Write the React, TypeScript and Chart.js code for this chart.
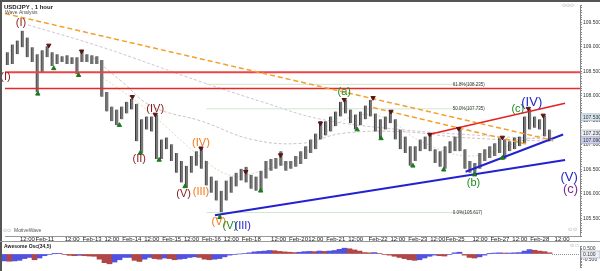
import React, { useEffect, useRef } from 'react';
import { Chart, registerables } from 'chart.js';
Chart.register(...registerables);

// ---- price data: 3-hour buckets (index = bucket) ----
const HIGHS = [
  108.89, 109.05, 109.13, 109.33, 109.19, 108.99, 108.85, 108.93, 109.01, 108.89,
  108.85, 108.81, 108.83, 108.79, 108.79, 108.93, 108.85, 108.83, 108.81, 108.73,
  108.08, 107.78, 107.72, 107.78, 107.88, 107.94, 107.84, 107.52, 107.58, 107.58,
  107.62, 107.11, 107.15, 107.01, 106.83, 106.67, 106.57, 106.77, 106.87, 106.95,
  106.67, 106.35, 106.27, 106.06, 106.27, 106.35, 106.43, 106.51, 106.55, 106.39,
  106.35, 106.47, 106.67, 106.71, 106.73, 106.87, 106.67, 106.67, 106.77, 106.87,
  106.97, 107.11, 107.23, 107.48, 107.48, 107.58, 107.68, 107.88, 107.92, 107.72,
  107.62, 107.68, 107.80, 107.92, 107.64, 107.52, 107.58, 107.68, 107.52, 107.31,
  107.17, 106.97, 106.97, 107.11, 107.17, 107.23, 106.91, 106.87, 106.97, 107.07,
  107.17, 107.33, 106.91, 106.67, 106.63, 106.83, 106.91, 106.97, 107.03, 107.15,
  107.11, 107.07, 107.15, 107.17, 107.58, 107.74, 107.58, 107.52, 107.60, 107.31,
];
const LOWS = [
  108.63, 108.65, 108.85, 108.99, 108.79, 108.69, 108.08, 108.48, 108.79, 108.61,
  108.65, 108.69, 108.65, 108.65, 108.44, 108.69, 108.69, 108.65, 108.65, 107.98,
  107.68, 107.48, 107.40, 107.52, 107.64, 107.72, 107.07, 106.83, 107.31, 107.27,
  106.71, 106.71, 106.91, 106.67, 106.43, 106.23, 106.13, 106.43, 106.57, 106.51,
  106.17, 106.02, 105.86, 105.62, 105.86, 106.02, 106.15, 106.27, 106.23, 106.10,
  106.06, 106.06, 106.31, 106.47, 106.51, 106.57, 106.47, 106.51, 106.55, 106.61,
  106.71, 106.83, 106.91, 107.11, 107.19, 107.27, 107.38, 107.58, 107.64, 107.44,
  107.31, 107.40, 107.52, 107.58, 107.27, 107.13, 107.31, 107.44, 107.11, 106.91,
  106.83, 106.57, 106.67, 106.87, 106.91, 106.87, 106.63, 106.55, 106.51, 106.83,
  106.87, 106.87, 106.51, 106.43, 106.37, 106.51, 106.67, 106.73, 106.77, 106.83,
  106.71, 106.87, 106.91, 106.97, 107.03, 107.31, 107.35, 107.31, 107.17, 107.07,
];
// Awesome oscillator (34,5)
const AO = [
  -0.6, -0.63, -0.6, -0.55, -0.4, -0.3, -0.5, -0.35, -0.15, -0.05,
  0.02, 0.03, -0.05, -0.12, -0.15, -0.12, -0.15, -0.18, -0.2, -0.45,
  -0.75, -0.85, -0.7, -0.5, -0.3, -0.3, -0.55, -0.65, -0.45, -0.3,
  -0.4, -0.45, -0.35, -0.4, -0.5, -0.45, -0.4, -0.3, -0.25, -0.3,
  -0.45, -0.5, -0.45, -0.4, -0.25, -0.1, -0.05, 0.0, 0.05, 0.1,
  0.18, 0.22, 0.25, 0.3, 0.28, 0.22, 0.18, 0.15, 0.12, 0.15,
  0.2, 0.22, 0.2, 0.25, 0.22, 0.25, 0.3, 0.4, 0.5, 0.45,
  0.35, 0.25, 0.12, 0.1, 0.12, 0.05, -0.05, -0.1, -0.2, -0.3,
  -0.4, -0.5, -0.55, -0.5, -0.35, -0.2, -0.1, -0.15, -0.18, -0.05,
  0.1, 0.15, -0.1, -0.3, -0.35, -0.25, -0.1, 0.02, 0.08, 0.1,
  0.08, 0.08, 0.1, 0.12, 0.25, 0.38, 0.32, 0.25, 0.2, 0.1,
];

// time axis
const X_TICK_POS = [4, 7.5, 13, 17, 21, 25, 29, 33, 37, 41, 45, 49, 54.5, 58.5, 62, 66, 70, 74.5, 78.5, 82.5, 86.5, 90, 95, 99, 103, 107, 111.5];
const X_TICK_LABELS = ['12:00', 'Feb-11', '12:00', 'Feb-13', '12:00', 'Feb-14', '12:00', 'Feb-15', '12:00', 'Feb-16', '12:00', 'Feb-18', '12:00', 'Feb-20', '12:00', 'Feb-21', '12:00', 'Feb-22', '12:00', 'Feb-23', '12:00', 'Feb-25', '12:00', 'Feb-27', '12:00', 'Feb-28', '12:00'];
const Y_TICK_VALUES = [105.5, 106, 106.5, 107, 107.5, 108, 108.5, 109, 109.5];
const OSC_TICK_VALUES = [0.5, -0.5];

// horizontal resistance levels
const RED_LEVELS = [108.48, 108.15];
// fibonacci retracement
const FIB_LEVELS = [108.235, 107.735, 105.617];
const FIB_NAMES = ['61.8%(108.235)', '50.0%(107.735)', '0.0%(105.617)'];
const FIB_START = 40;
const FIB_END = 95;

// trend lines [x1, p1, x2, p2]
const ORANGE_A = [-0.5, 109.68, 109.7, 107.09];
const ORANGE_B = [73.5, 107.76, 104.5, 107.01];
const RED_RISING = [84.7, 107.21, 112.1, 107.85];
const BLUE_LONG = [41.7, 105.56, 112.1, 106.69];
const BLUE_SHORT = [92.1, 106.45, 111.7, 107.21];

// moving averages (faint)
const MA1_X = [4.1, 19.1, 39.1, 51.1, 63.1, 79.1, 95.1, 109.7];
const MA1_Y = [109.45, 108.99, 108.28, 107.88, 107.52, 107.31, 107.19, 107.11];
const MA2_X = [17.1, 23.1, 29.1, 39.1, 49.1, 59.1, 67.1, 79.1, 91.1, 109.7];
const MA2_Y = [108.79, 108.28, 107.78, 107.48, 107.11, 107.03, 107.23, 107.27, 107.15, 107.07];
const MA3_X = [19.1, 27.7, 39.1, 45.1, 51.1, 59.1, 67.1, 75.1, 83.1, 93.1, 103.1, 109.7];
const MA3_Y = [108.38, 107.74, 106.73, 106.37, 106.47, 106.77, 107.48, 107.58, 107.07, 106.77, 107.07, 107.27];

// fractal markers
const TOP_X = [8.3, 14.9, 25.1, 29.7, 38.9, 47.9, 54.9, 62.9, 67.7, 73.5, 77.1, 84.9, 90.7, 99.5, 104.7, 107.7];
const TOP_Y = [109.03, 108.91, 107.98, 107.62, 106.93, 106.45, 106.79, 107.44, 107.92, 107.96, 107.68, 107.21, 107.33, 107.15, 107.74, 107.60];
const BOT_X = [6.1, 9.3, 14.3, 22.5, 26.7, 30.5, 35.7, 42.7, 50.9, 70.3, 75.1, 81.5, 87.7, 93.9, 99.5];
const BOT_Y = [108.04, 108.56, 108.42, 107.40, 106.83, 106.69, 106.15, 105.52, 106.06, 107.31, 107.13, 106.57, 106.49, 106.39, 106.73];

// Elliott wave labels
const WAVE_TEXT = ['(I)', '(I)', '(II)', '(IV)', '(V)', '(III)', '(IV)', '(V)', '(V)', '(III)', '(a)', '(b)', '(c)', '(IV)', '(V)', '(c)'];
const WAVE_X = [2.7, -0.4, 26.5, 29.7, 35.4, 38.9, 38.9, 42.5, 44.7, 47.3, 67.7, 93.7, 102.6, 105.4, 112.9, 113.2];
const WAVE_P = [109.49, 108.38, 106.71, 107.74, 106.0, 106.04, 107.03, 105.42, 105.34, 105.34, 108.08, 106.23, 107.74, 107.86, 106.33, 106.08];
const WAVE_DEGREE = ['minor', 'minor', 'minor', 'minor', 'minor', 'minute', 'minute', 'minute', 'sub', 'inter', 'sub', 'sub', 'sub', 'inter', 'inter', 'prim'];

// axis price boxes
const BOX_P = [107.56, 107.23, 107.09];
const BOX_TEXT = ['107.530', '107.230', '107.090'];

const DEGREE_COLOR: Record<string, string> = {
  minor: '#8b1a1a',
  minute: '#f07818',
  sub: '#1e8c1e',
  inter: '#2525c8',
  prim: '#7b2a8c',
};
const FONT = '"Liberation Sans", Arial, sans-serif';
const X_MIN = -0.5;
const X_MAX = 115.1;

const seg = (a: number[]) => [{ x: a[0], y: a[1] }, { x: a[2], y: a[3] }];
const pts = (xs: number[], ys: number[]) => xs.map((x, i) => ({ x, y: ys[i] }));

export default function App() {
  const mainRef = useRef<HTMLCanvasElement>(null);
  const oscRef = useRef<HTMLCanvasElement>(null);

  useEffect(() => {
    document.body.style.margin = '0';

    const mainOverlay = {
      id: 'mainOverlay',
      beforeDraw(chart: any) {
        const c = chart.ctx;
        c.save();
        c.fillStyle = '#fff';
        c.fillRect(0, 0, chart.width, chart.height);
        c.restore();
      },
      afterDraw(chart: any) {
        const c = chart.ctx;
        const xs = chart.scales.x;
        const ys = chart.scales.y;
        c.save();
        c.font = `4.5px ${FONT}`;
        c.fillStyle = '#333';
        c.textAlign = 'left';
        c.textBaseline = 'middle';
        FIB_LEVELS.forEach((lv, i) => {
          c.fillText(FIB_NAMES[i], xs.getPixelForValue(89.5), ys.getPixelForValue(lv));
        });
        c.textAlign = 'center';
        WAVE_TEXT.forEach((t, i) => {
          const big = WAVE_DEGREE[i] === 'prim' || (WAVE_DEGREE[i] === 'inter' && WAVE_X[i] > 100);
          c.font = `${big ? 13 : 11}px ${FONT}`;
          c.fillStyle = DEGREE_COLOR[WAVE_DEGREE[i]];
          c.fillText(t, xs.getPixelForValue(WAVE_X[i]), ys.getPixelForValue(WAVE_P[i]));
        });
        c.textAlign = 'left';
        c.fillStyle = '#222';
        c.font = `bold 6px ${FONT}`;
        c.fillText('USD/JPY , 1 hour', 4, 7);
        c.font = `5px ${FONT}`;
        c.fillStyle = '#555';
        c.fillText('Wave Analysis', 5, 13);
        c.fillText('MotiveWave', 14, 231);
        c.fillStyle = '#aaa';
        c.fillText('\u2299\u2299', 3, 231);
        c.fillText('\u2299\u2299\u2299', 562, 6);
        c.fillText('\u2299 \u2299', 568, 230);
        const boxFill = ['#d6e6ec', '#f0f0f4', '#cfd0ec'];
        BOX_P.forEach((p, i) => {
          const py = ys.getPixelForValue(p);
          c.fillStyle = boxFill[i];
          c.fillRect(581, py - 3.5, 19, 7);
          c.strokeStyle = '#8a9ab0';
          c.lineWidth = 0.5;
          c.strokeRect(581, py - 3.5, 19, 7);
          c.fillStyle = '#333';
          c.font = `5px ${FONT}`;
          c.fillText(BOX_TEXT[i], 583, py);
        });
        c.fillStyle = '#555';
        c.fillRect(0, 0, chart.width, 2);
        c.fillRect(0, 0, 2, chart.height);
        c.strokeStyle = '#999';
        c.lineWidth = 1;
        c.beginPath();
        c.moveTo(0, 241.5);
        c.lineTo(600, 241.5);
        c.stroke();
        c.restore();
      },
    };

    const lineDs = (data: any[], color: string, width: number, order: number, dash: number[] = [], tension = 0) => ({
      type: 'line',
      data,
      borderColor: color,
      borderWidth: width,
      borderDash: dash,
      pointRadius: 0,
      tension,
      order,
      fill: false,
    });

    const main = new Chart(mainRef.current as HTMLCanvasElement, {
      type: 'bar',
      data: {
        datasets: [
          lineDs(pts(MA1_X, MA1_Y), 'rgba(190,170,200,0.7)', 1, 20, [3, 2], 0.4),
          lineDs(pts(MA2_X, MA2_Y), 'rgba(180,150,150,0.6)', 1, 20, [3, 2], 0.4),
          lineDs(pts(MA3_X, MA3_Y), 'rgba(200,190,150,0.6)', 1, 20, [2, 2], 0.4),
          ...FIB_LEVELS.map((lv) => lineDs([{ x: FIB_START, y: lv }, { x: FIB_END, y: lv }], '#cfe8cf', 1, 19)),
          {
            type: 'bar',
            data: LOWS.map((l, i) => ({ x: i, y: [l, HIGHS[i]] })),
            backgroundColor: '#777777',
            borderColor: '#3a3a3a',
            borderWidth: { left: 1, right: 0, top: 0, bottom: 0 },
            borderSkipped: false,
            barThickness: 3,
            order: 10,
          },
          ...RED_LEVELS.map((lv, i) => lineDs([{ x: X_MIN, y: lv }, { x: X_MAX, y: lv }], i === 0 ? '#ee4448' : '#e52a2a', i === 0 ? 2 : 1.5, 5)),
          lineDs(seg(ORANGE_A), '#f3a02c', 1.5, 4, [5, 3]),
          lineDs(seg(ORANGE_B), '#f3a02c', 1.5, 4, [5, 3]),
          lineDs(seg(RED_RISING), '#e82020', 1.5, 4),
          lineDs(seg(BLUE_LONG), '#2222d0', 2, 4),
          lineDs(seg(BLUE_SHORT), '#2222d0', 2, 4),
          {
            type: 'line',
            data: pts(TOP_X, TOP_Y),
            showLine: false,
            pointStyle: 'triangle',
            pointRotation: 180,
            pointRadius: 2.5,
            pointBackgroundColor: '#5a1414',
            pointBorderColor: '#5a1414',
            order: 1,
          },
          {
            type: 'line',
            data: pts(BOT_X, BOT_Y),
            showLine: false,
            pointStyle: 'triangle',
            pointRadius: 2.5,
            pointBackgroundColor: '#1a7a1a',
            pointBorderColor: '#1a7a1a',
            order: 1,
          },
        ] as any,
      },
      options: {
        responsive: false,
        animation: false,
        events: [],
        layout: { padding: { left: 2, top: 2, right: 0, bottom: 0 } },
        plugins: { legend: { display: false }, tooltip: { enabled: false } },
        scales: {
          x: {
            type: 'linear',
            offset: false,
            min: X_MIN,
            max: X_MAX,
            afterBuildTicks: (s: any) => {
              s.ticks = X_TICK_POS.map((v) => ({ value: v }));
            },
            afterFit: (s: any) => {
              s.height = 6;
            },
            ticks: {
              autoSkip: false,
              maxRotation: 0,
              padding: 0,
              font: { size: 6, family: FONT },
              color: '#222',
              callback: (_v: any, i: number) => X_TICK_LABELS[i],
            },
            grid: { display: false, drawTicks: false },
            border: { display: true, color: '#999' },
          },
          y: {
            type: 'linear',
            position: 'right',
            min: 105.137,
            max: 109.855,
            afterFit: (s: any) => {
              s.width = 20;
            },
            ticks: {
              stepSize: 0.05,
              autoSkip: false,
              padding: 1,
              font: { size: 5, family: FONT },
              color: '#333',
              callback: (v: any) => {
                const hit = Y_TICK_VALUES.find((t) => Math.abs(t - v) < 1e-6);
                return hit !== undefined ? hit.toFixed(3) : '';
              },
            },
            grid: { drawOnChartArea: false, tickLength: 2, color: '#888' },
            border: { color: '#888' },
          },
        },
      } as any,
      plugins: [mainOverlay],
    });

    const oscOverlay = {
      id: 'oscOverlay',
      beforeDraw(chart: any) {
        const c = chart.ctx;
        c.save();
        c.fillStyle = '#fff';
        c.fillRect(0, 0, chart.width, chart.height);
        c.restore();
      },
      afterDraw(chart: any) {
        const c = chart.ctx;
        const xs = chart.scales.x;
        const ys = chart.scales.y;
        c.save();
        const zy = Math.round(ys.getPixelForValue(0)) + 0.5;
        c.strokeStyle = '#777';
        c.lineWidth = 0.8;
        c.setLineDash([1, 1]);
        c.beginPath();
        c.moveTo(xs.getPixelForValue(AO.length - 0.5), zy);
        c.lineTo(580, zy);
        c.stroke();
        c.setLineDash([]);
        c.fillStyle = '#222';
        c.font = `bold 5px ${FONT}`;
        c.textBaseline = 'middle';
        c.fillText('Awesome Osc(34,5)', 4, 5);
        c.fillStyle = '#aaa';
        c.font = `5px ${FONT}`;
        c.fillText('\u2299 \u25a1', 570, 3.5);
        c.fillStyle = '#eeeef6';
        c.fillRect(581, zy - 3.5, 19, 7);
        c.strokeStyle = '#8a9ab0';
        c.lineWidth = 0.5;
        c.strokeRect(581, zy - 3.5, 19, 7);
        c.fillStyle = '#333';
        c.fillText(AO[AO.length - 1].toFixed(3), 583, zy);
        c.fillStyle = '#555';
        c.fillRect(0, 0, 2, chart.height);
        c.restore();
      },
    };

    const osc = new Chart(oscRef.current as HTMLCanvasElement, {
      type: 'bar',
      data: {
        datasets: [
          {
            data: AO.map((v, i) => ({ x: i, y: v })),
            backgroundColor: AO.map((v, i) => (i > 0 && v < AO[i - 1] ? '#b04646' : '#5252e0')),
            borderWidth: 0,
            barPercentage: 1,
            categoryPercentage: 1,
          },
        ],
      },
      options: {
        responsive: false,
        animation: false,
        events: [],
        layout: { padding: { left: 2, top: 0, right: 0, bottom: 0 } },
        plugins: { legend: { display: false }, tooltip: { enabled: false } },
        scales: {
          x: { type: 'linear', offset: false, min: X_MIN, max: X_MAX, display: false },
          y: {
            type: 'linear',
            position: 'right',
            min: -1.125,
            max: 0.6875,
            afterFit: (s: any) => {
              s.width = 20;
            },
            ticks: {
              stepSize: 0.125,
              autoSkip: false,
              padding: 1,
              font: { size: 5, family: FONT },
              color: '#333',
              callback: (v: any) => {
                const hit = OSC_TICK_VALUES.find((t) => Math.abs(t - v) < 1e-6);
                return hit !== undefined ? hit.toFixed(3) : '';
              },
            },
            grid: { drawOnChartArea: false, tickLength: 2, color: '#888' },
            border: { color: '#888' },
          },
        },
      } as any,
      plugins: [oscOverlay],
    });

    return () => {
      main.destroy();
      osc.destroy();
    };
  }, []);

  return (
    <div style={{ position: 'relative', width: 600, height: 271, background: '#fff', overflow: 'hidden' }}>
      <canvas ref={mainRef} width={600} height={242} style={{ position: 'absolute', left: 0, top: 0 }} />
      <canvas ref={oscRef} width={600} height={29} style={{ position: 'absolute', left: 0, top: 242 }} />
    </div>
  );
}
